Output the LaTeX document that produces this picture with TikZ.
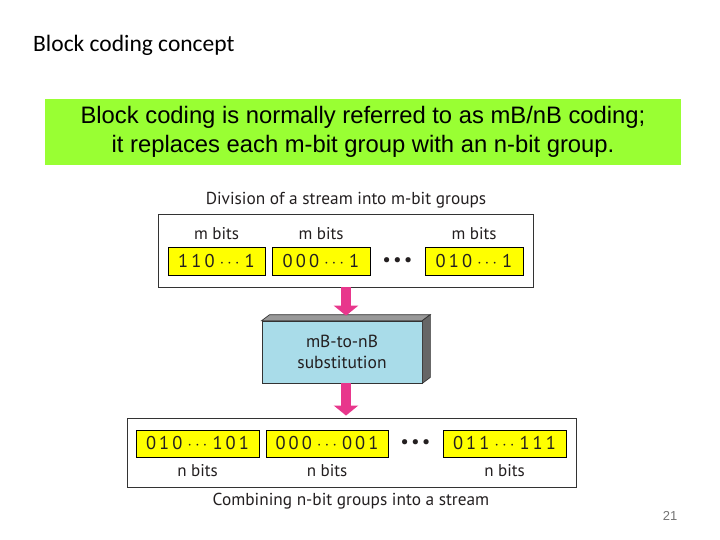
\documentclass[tikz,border=0pt]{standalone}
\usepackage{fontspec}
\setmainfont{PT Sans}
\newfontfamily\calibrifont{Carlito}
\newfontfamily\arialfont{Liberation Sans}
\usepackage{tikz}
\usetikzlibrary{calc,arrows.meta,positioning}

\definecolor{limegreen}{HTML}{99FF33}
\definecolor{bitsyellow}{HTML}{FFFF00}
\definecolor{subblue}{HTML}{A9DCE9}
\definecolor{arrowpink}{HTML}{E8378C}
\definecolor{textgray}{HTML}{231F20}

\begin{document}
\begin{tikzpicture}[x=1pt,y=-1pt,
    bitbox/.style={draw=black,fill=bitsyellow,line width=0.8pt,inner sep=0pt,minimum height=28pt,
        font=\fontsize{18.5}{20}\selectfont,text=textgray},
    bitlabel/.style={inner sep=0pt,font=\fontsize{17}{20}\selectfont,text=textgray},
    frame/.style={draw=black!80,line width=0.9pt,fill=white,inner sep=0pt},
    caption/.style={inner sep=0pt,font=\fontsize{17.3}{20}\selectfont,text=textgray},
    moredots/.style={inner sep=0pt,font=\fontsize{17}{18}\bfseries,text=textgray},
    pinkarrow/.style={draw=arrowpink,line width=10pt,-{Triangle[width=24pt,length=10pt]},shorten >=2pt}]

\useasboundingbox (0,0) rectangle (720,540);

% title and summary
\node[anchor=west,inner sep=0pt,font=\calibrifont\fontsize{23.5}{28}\selectfont] (title) at (33,45) {Block coding concept};

\node[fill=limegreen,minimum width=636pt,minimum height=66pt,inner sep=0pt,align=center,
      font=\arialfont\fontsize{23.8}{29}\selectfont] (summary) at (363,132)
      {Block coding is normally referred to as mB/nB coding;\\it replaces each m-bit group with an n-bit group.};

% m-bit groups
\node[caption] (divcap) at (346,200) {Division of a stream into m-bit groups};
\node[frame,minimum width=375pt,minimum height=73pt] (mstream) at (345.5,250.5) {};

\node[bitbox,minimum width=97pt] (m1) at (216.5,261) {1\,1\,0 $\cdots$ 1};
\node[bitbox,minimum width=98pt] (m2) at (321,261) {0\,0\,0 $\cdots$ 1};
\node[bitbox,minimum width=98pt] (m3) at (474,261) {0\,1\,0 $\cdots$ 1};
\node[moredots] (mdots) at (397.5,262) {•\hspace{3pt}•\hspace{3pt}•};

\node[bitlabel] (ml1) at (216.5,234) {m bits};
\node[bitlabel] (ml2) at (321,234) {m bits};
\node[bitlabel] (ml3) at (474,234) {m bits};

% substitution block
\node[draw=black!80,fill=subblue,line width=0.7pt,minimum width=160pt,minimum height=62pt,inner sep=0pt,
      align=center,font=\fontsize{17.5}{21}\selectfont,text=textgray] (sub) at (342,352)
      {mB-to-nB\\substitution};
\draw[fill=black!40,draw=black!80,line width=0.7pt] (sub.north west) -- ++(8,-6) -- ($(sub.north east)+(8,-6)$)
    -- (sub.north east) -- cycle;
\draw[fill=black!60,draw=black!80,line width=0.7pt] (sub.north east) -- ++(8,-6) -- ($(sub.south east)+(8,-6)$)
    -- (sub.south east) -- cycle;

% n-bit groups
\node[frame,minimum width=449pt,minimum height=69pt] (nstream) at (351.5,452.5) {};

\node[bitbox,minimum width=123pt,minimum height=27pt] (n1) at (197.5,443.5) {0\,1\,0 $\cdots$ 1\,0\,1};
\node[bitbox,minimum width=122pt,minimum height=27pt] (n2) at (327,443.5) {0\,0\,0 $\cdots$ 0\,0\,1};
\node[bitbox,minimum width=123pt,minimum height=27pt] (n3) at (504.5,443.5) {0\,1\,1 $\cdots$ 1\,1\,1};
\node[moredots] (ndots) at (415.5,444) {•\hspace{3pt}•\hspace{3pt}•};

\node[bitlabel] (nl1) at (197.5,471) {n bits};
\node[bitlabel] (nl2) at (327,471) {n bits};
\node[bitlabel] (nl3) at (504.5,471) {n bits};

\node[caption] (comcap) at (351,501) {Combining n-bit groups into a stream};

% arrows
\coordinate (subtop) at ($(sub.north)+(4,-3)$);
\draw[pinkarrow] (mstream.south -| subtop) -- (subtop);
\draw[pinkarrow] ($(sub.south)+(4,0)$) -- ($(nstream.north)+(-5.5,0)$);

\node[inner sep=0pt,text=black!55,font=\arialfont\fontsize{13}{15}\selectfont] (pagenum) at (670,516) {21};

\end{tikzpicture}
\end{document}
